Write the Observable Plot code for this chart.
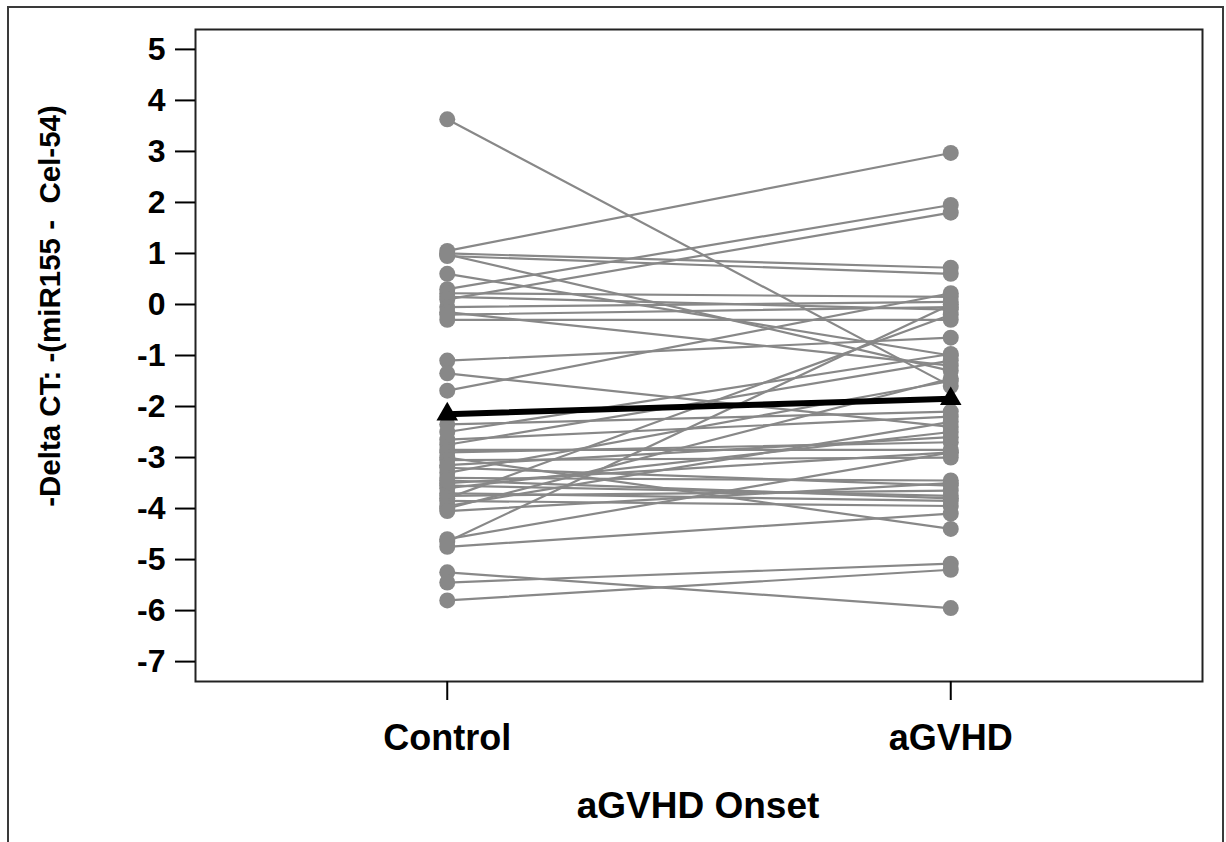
<!DOCTYPE html>
<html><head><meta charset="utf-8">
<script src="https://cdn.jsdelivr.net/npm/d3@7"></script>
<script src="https://cdn.jsdelivr.net/npm/@observablehq/plot@0.6"></script>
<style>
html,body{margin:0;padding:0;background:#fff;overflow:hidden}
#wrap{position:relative;width:1226px;height:842px;overflow:hidden}
#border{position:absolute;left:7px;top:6px;width:1217px;height:870px;border:2px solid #3a3a3a;box-sizing:border-box}
#chart{position:absolute;left:0;top:0}
</style></head><body><div id="wrap"><div id="border"></div><div id="chart"></div></div>
<script>
const groups = ["Control", "aGVHD"];
const controlValues = [3.63, 1.05, 1.0, 0.95, 0.98, 0.6, 0.3, 0.22, 0.15, 0.1,
  -0.05, -0.15, -0.2, -0.3, -1.1, -1.35, -1.69, -2.35, -2.65, -2.75,
  -2.85, -2.9, -3.0, -3.05, -3.15, -3.2, -3.3, -3.4, -3.5, -3.55,
  -3.6, -3.7, -3.75, -3.8, -3.85, -3.95, -4.0, -4.05, -4.6, -4.65,
  -4.75, -5.25, -5.45, -5.8, -2.5, -3.45];
const agvhdValues = [-1.6, 2.97, 0.72, 0.6, -1.3, -1.0, 1.95, 0.15, -0.1, 1.8,
  0.05, -1.2, -0.05, -0.3, -0.65, -2.4, 0.22, -2.1, -2.2, -1.1,
  -2.85, -2.7, -4.4, -3.0, -2.6, -3.55, -1.5, -3.45, -2.9, -3.75,
  -2.5, -3.85, -3.65, -0.2, -3.95, -2.3, -1.45, -3.5, -2.9, 0.0,
  -4.1, -5.95, -5.08, -5.2, -0.97, -3.8];
const meanValues = [-2.15, -1.85];
const yTicks = [5, 4, 3, 2, 1, 0, -1, -2, -3, -4, -5, -6, -7];
const yTitle = "-Delta CT: -(miR155 -  Cel-54)";
const xTitle = "aGVHD Onset";

const rows = [];
controlValues.forEach((c, i) => {
  rows.push({id: i, g: 1, v: c});
  rows.push({id: i, g: 2, v: agvhdValues[i]});
});
const means = meanValues.map((v, i) => ({g: i + 1, v}));

const font = "'Liberation Sans', Arial, Helvetica, sans-serif";
const plot = Plot.plot({
  width: 1226, height: 842,
  marginLeft: 195, marginRight: 24, marginTop: 29, marginBottom: 161,
  style: {fontFamily: font, fontWeight: "bold", background: "transparent", color: "#000", overflow: "visible"},
  x: {domain: [0.5, 2.5]},
  y: {domain: [-7.39, 5.39]},
  marks: [
    Plot.frame({stroke: "#222", strokeWidth: 2}),
    Plot.axisY({ticks: yTicks, tickSize: 20, tickPadding: 10, fontSize: 32, strokeWidth: 2, tickFormat: d => d < 0 ? "-" + Math.abs(d) : String(d), label: null}),
    Plot.axisX({ticks: [1, 2], tickFormat: d => groups[d - 1], tickSize: 19, tickPadding: 24, fontSize: 36, strokeWidth: 2, label: null}),
    Plot.line(rows, {x: "g", y: "v", z: "id", stroke: "#888", strokeWidth: 2.2}),
    Plot.dot(rows, {x: "g", y: "v", r: 8, fill: "#888"}),
    Plot.line(means, {x: "g", y: "v", stroke: "#000", strokeWidth: 6}),
    Plot.dot(means, {x: "g", y: "v", symbol: "triangle", r: 8, fill: "#000"})
  ]
});
const svg = d3.select(plot);
svg.append("text")
  .attr("transform", "translate(60,306) rotate(-90)")
  .attr("text-anchor", "middle")
  .style("font-family", font).style("font-weight", "bold").style("font-size", "29.5px")
  .text(yTitle);
svg.append("text")
  .attr("x", 698).attr("y", 818)
  .attr("text-anchor", "middle")
  .style("font-family", font).style("font-weight", "bold").style("font-size", "37px")
  .text(xTitle);
document.getElementById("chart").appendChild(plot);
</script>
</body></html>
